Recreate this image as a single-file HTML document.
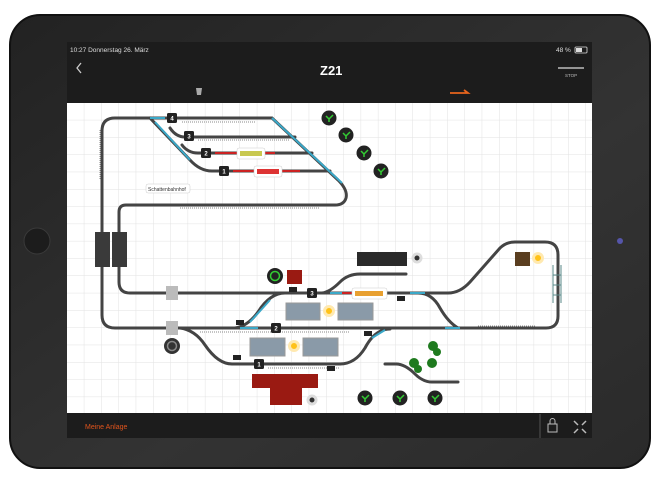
<!DOCTYPE html>
<html><head><meta charset="utf-8"><style>
body{margin:0;width:662px;height:480px;background:#fff;overflow:hidden;font-family:"Liberation Sans",sans-serif}
</style></head><body>
<svg width="662" height="480" viewBox="0 0 662 480" xmlns="http://www.w3.org/2000/svg">
<defs>
<pattern id="g" x="67" y="103" width="17.3" height="17.3" patternUnits="userSpaceOnUse">
<path d="M17.3 0V17.3H0" fill="none" stroke="#e2e2e2" stroke-width="1"/></pattern>
<linearGradient id="fr" x1="0" y1="0" x2="1" y2="1"><stop offset="0" stop-color="#222"/><stop offset="0.6" stop-color="#333"/><stop offset="1" stop-color="#2a2a2a"/></linearGradient>
</defs>
<rect x="10" y="15" width="640" height="453" rx="30" fill="url(#fr)" stroke="#111" stroke-width="2"/>
<circle cx="37" cy="241" r="13" fill="#1c1c1c" stroke="#3a3a3a"/>
<circle cx="620" cy="241" r="3" fill="#55a" />
<rect x="67" y="42" width="525" height="61" fill="#1c1c1c"/>
<text x="70" y="52" font-size="6.5" fill="#ddd">10:27  Donnerstag 26. März</text>
<text x="556" y="52" font-size="6.5" fill="#ddd">48 %</text>
<rect x="575" y="47" width="12" height="6" rx="1" fill="none" stroke="#ddd" stroke-width="0.8"/><rect x="576" y="48" width="6" height="4" fill="#ddd"/>
<path d="M81 63l-4 5 4 5" fill="none" stroke="#ccc" stroke-width="1.3"/>
<text x="320" y="75" font-size="13" font-weight="bold" fill="#fff">Z21</text>
<line x1="558" y1="68" x2="584" y2="68" stroke="#bbb" stroke-width="1.5"/>
<text x="565" y="77" font-size="4.5" fill="#bbb">STOP</text>
<path d="M196 88h6l-1 7h-4z" fill="#aaa"/>
<path d="M450 93h18l-4-3" fill="none" stroke="#e8641c" stroke-width="1.8"/>
<rect x="67" y="103" width="525" height="310" fill="#fff"/>
<rect x="67" y="103" width="525" height="310" fill="url(#g)"/>
<rect x="67" y="413" width="525" height="25" fill="#1c1c1c"/>
<text x="85" y="429" font-size="7" fill="#e0541c">Meine Anlage</text>
<line x1="540" y1="414" x2="540" y2="438" stroke="#555"/>
<rect x="548" y="424" width="9" height="8" fill="none" stroke="#bbb"/><path d="M550 424v-3a2.5 2.5 0 0 1 5 0v3" fill="none" stroke="#bbb"/>
<path d="M574 421l4 4M586 421l-4 4M574 433l4-4M586 433l-4-4" stroke="#bbb" stroke-width="1.5"/>
<g fill="none" stroke="#444" stroke-width="3" stroke-linecap="round">
<path d="M115 118H272L338 180Q348 190 346 198Q344 205 335 205H126Q119 205 119 212V282Q119 293 130 293H448Q460 293 470 282L500 248Q506 242 515 242H545Q558 242 558 255V316Q558 328 546 328H115Q102 328 102 315V131Q102 118 115 118"/>
<path d="M150 118L190 160Q200 171 212 171H330"/>
<path d="M170 128Q176 137 185 137H295"/>
<path d="M182 145Q188 153 198 153H312"/>
<path d="M235 328Q248 326 258 312Q270 293 285 293"/>
<path d="M180 328Q195 330 205 345Q218 364 232 364H340"/>
<path d="M340 364Q355 364 365 348Q375 329 390 329"/>
<path d="M418 293Q432 293 440 308Q448 322 458 328"/>
<path d="M322 293Q330 292 340 282Q348 274 360 274H406"/>
<path d="M385 364H396Q405 364 415 374Q423 382 432 382H458"/>
</g>
<g stroke="#3aa8c8" stroke-width="2" fill="none">
<path d="M150 118H165M155 122L190 160"/><path d="M272 118L342 183"/>
<path d="M240 328H258M250 322L270 300"/><path d="M330 293H350M410 293H425M372 338L385 330M445 328H460"/>
</g>
<g stroke="#c22" stroke-width="2"><path d="M215 153H275M233 171H300M342 293H385"/></g>
<g stroke="#888" stroke-width="1" stroke-dasharray="1 1"><path d="M182 122H255M198 140H290M180 208H320M200 332H350M268 368H340M478 326H535M100 130V180"/></g>
<g fill="#fff" stroke="#ccc" stroke-width="0.5"><rect x="237" y="148" width="28" height="11" rx="2"/><rect x="254" y="166" width="28" height="11" rx="2"/><rect x="352" y="288" width="35" height="11" rx="2"/><rect x="146" y="184" width="44" height="9" rx="2"/></g>
<rect x="240" y="151" width="22" height="5" fill="#c8c850"/><rect x="257" y="169" width="22" height="5" fill="#d33"/><rect x="355" y="291" width="28" height="5" fill="#e8a030"/>
<text x="148" y="191" font-size="5" fill="#333">Schattenbahnhof</text>
<g font-size="6" font-weight="bold" fill="#fff" text-anchor="middle">
<rect x="167" y="113" width="10" height="10" rx="1.5" fill="#222"/><text x="172" y="120.5">4</text>
<rect x="184" y="131" width="10" height="10" rx="1.5" fill="#222"/><text x="189" y="138.5">3</text>
<rect x="201" y="148" width="10" height="10" rx="1.5" fill="#222"/><text x="206" y="155.5">2</text>
<rect x="219" y="166" width="10" height="10" rx="1.5" fill="#222"/><text x="224" y="173.5">1</text>
<rect x="307" y="288" width="10" height="10" rx="1.5" fill="#222"/><text x="312" y="295.5">3</text>
<rect x="271" y="323" width="10" height="10" rx="1.5" fill="#222"/><text x="276" y="330.5">2</text>
<rect x="254" y="359" width="10" height="10" rx="1.5" fill="#222"/><text x="259" y="366.5">1</text>
</g>
<g fill="#222"><circle cx="329" cy="118" r="7.5"/><circle cx="346" cy="135" r="7.5"/><circle cx="364" cy="153" r="7.5"/><circle cx="381" cy="171" r="7.5"/><circle cx="365" cy="398" r="7.5"/><circle cx="400" cy="398" r="7.5"/><circle cx="435" cy="398" r="7.5"/></g>
<g stroke="#3c3" stroke-width="1.5" fill="none"><path d="M329 122v-3l-3-3M329 119l4-4M346 139v-3l-3-3M346 136l4-4M364 157v-3l-3-3M364 154l4-4M381 175v-3l-3-3M381 172l4-4M365 402v-3l-3-3M365 399l4-4M400 402v-3l-3-3M400 399l4-4M435 402v-3l-3-3M435 399l4-4"/></g>
<rect x="95" y="232" width="15" height="35" fill="#3a3a3a"/><rect x="112" y="232" width="15" height="35" fill="#3a3a3a"/>
<rect x="166" y="286" width="12" height="14" fill="#bbb"/><rect x="166" y="321" width="12" height="14" fill="#bbb"/>
<g fill="#8a9aa8" stroke="#999"><rect x="286" y="303" width="34" height="17"/><rect x="338" y="303" width="35" height="17"/><rect x="250" y="338" width="35" height="18"/><rect x="303" y="338" width="35" height="18"/></g>
<g fill="#ffc21a" stroke="#ffe9b0" stroke-width="3"><circle cx="329" cy="311" r="4.5"/><circle cx="294" cy="346" r="4.5"/><circle cx="538" cy="258" r="4.5"/></g>
<rect x="357" y="252" width="50" height="14" fill="#2a2a2a"/>
<g fill="#333" stroke="#ddd" stroke-width="3"><circle cx="417" cy="258" r="4"/><circle cx="312" cy="400" r="4"/></g>
<circle cx="275" cy="276" r="8" fill="#222"/><circle cx="275" cy="276" r="4.5" fill="none" stroke="#3c3" stroke-width="1.5"/>
<circle cx="172" cy="346" r="8" fill="#333"/><circle cx="172" cy="346" r="4.5" fill="none" stroke="#888" stroke-width="1.5"/>
<rect x="287" y="270" width="15" height="14" fill="#9a1a12"/>
<rect x="252" y="374" width="66" height="14" fill="#9a1a12"/><rect x="270" y="388" width="32" height="17" fill="#9a1a12"/>
<rect x="515" y="252" width="15" height="14" fill="#5a3e20"/>
<g fill="#1e7a1e"><circle cx="433" cy="346" r="5"/><circle cx="437" cy="352" r="4"/><circle cx="414" cy="363" r="5"/><circle cx="432" cy="363" r="5"/><circle cx="418" cy="369" r="4"/></g>
<g stroke="#5a8a8a" stroke-width="1"><path d="M553 265V303M561 265V303M553 275H561M553 285H561M553 295H561"/></g>
<g fill="#222"><rect x="289" y="287" width="8" height="5"/><rect x="236" y="320" width="8" height="5"/><rect x="233" y="355" width="8" height="5"/><rect x="364" y="331" width="8" height="5"/><rect x="327" y="366" width="8" height="5"/><rect x="397" y="296" width="8" height="5"/></g>
</svg>
</body></html>
